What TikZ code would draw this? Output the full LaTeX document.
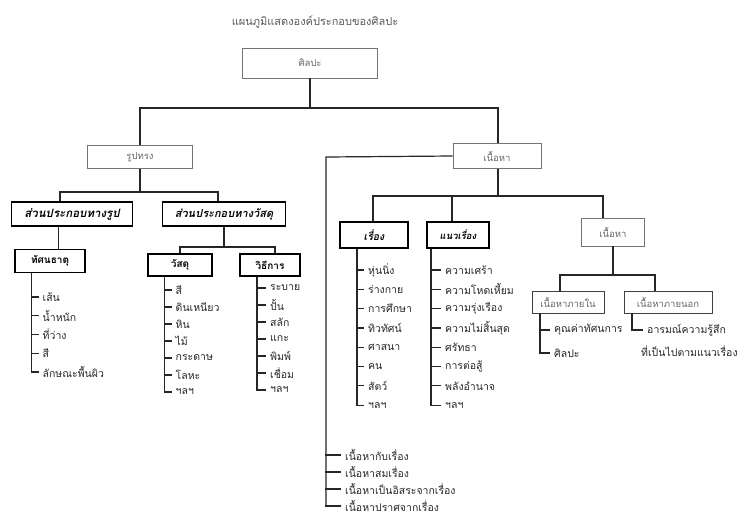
\documentclass[tikz,border=0pt]{standalone}
\usepackage{fontspec}
\setmainfont[Script=Thai]{Loma}
\usetikzlibrary{calc}
\tikzset{
  x=1pt,y=-1pt,
  conn/.style={draw=black!85,line width=1.2pt},
  connfill/.style={fill=black!85,draw=none},
  lbox/.style={draw=black!55,line width=0.8pt,text=black!60,inner sep=1pt,font=\fontsize{9.5}{10}\selectfont},
  dbox/.style={draw=black,line width=1.3pt,text=black,inner sep=1pt,font=\fontsize{10}{11}\selectfont\bfseries},
  item/.style={inner sep=1pt,anchor=west,text=black!85,font=\fontsize{10.5}{11}\selectfont},
  ttl/.style={text=black!65,font=\fontsize{11}{12}\selectfont}
}
\newcommand\mylist[6]{%
  % #1 prefix, #2 vertical x, #3 text offset, #4 first y, #5 dy, #6 items
  \foreach \t [count=\i] in {#6} {
    \pgfmathsetmacro\yy{#4+(\i-1)*#5}
    \node[item] (#1\i) at (#2+#3,\yy) {\t};
    \draw[conn] (#2-0.6,\yy) -- ([xshift=-3pt]#1\i.west);
  }
}
\begin{document}
\begin{tikzpicture}
\useasboundingbox (0,0) rectangle (742,515);
% title
\node[ttl] (title) at (315,22) {แผนภูมิแสดงองค์ประกอบของศิลปะ};
% boxes
\node[lbox,minimum width=135,minimum height=30] (silpa) at (310,63) {ศิลปะ};
\node[lbox,minimum width=105,minimum height=23] (rup) at (140,157) {รูปทรง};
\node[lbox,minimum width=88,minimum height=25] (nua) at (497,156) {เนื้อหา};
\node[dbox,minimum width=121,minimum height=24,font=\fontsize{11.5}{12}\selectfont\bfseries\itshape] (sr) at (72,214) {ส่วนประกอบทางรูป};
\node[dbox,minimum width=123,minimum height=24,font=\fontsize{11}{12}\selectfont\bfseries\itshape] (sw) at (224,214) {ส่วนประกอบทางวัสดุ};
\node[dbox,minimum width=70,minimum height=23] (thasana) at (50,261) {ทัศนธาตุ};
\node[dbox,minimum width=64,minimum height=22] (wassadu) at (180,265) {วัสดุ};
\node[dbox,minimum width=60,minimum height=22] (wit) at (270,265) {วิธีการ};
\node[dbox,minimum width=68,minimum height=26,font=\fontsize{10.5}{11}\selectfont\bfseries\itshape] (rueang) at (374,235) {เรื่อง};
\node[dbox,minimum width=62,minimum height=26,font=\fontsize{9.5}{11}\selectfont\bfseries\itshape] (naew) at (458,235) {แนวเรื่อง};
\node[lbox,minimum width=63,minimum height=28] (nua2) at (613,232) {เนื้อหา};
\node[lbox,draw=black!75,line width=0.9pt,minimum width=72,minimum height=22] (nai) at (568,302) {เนื้อหาภายใน};
\node[lbox,draw=black!75,line width=0.9pt,minimum width=88,minimum height=22] (nok) at (668,302) {เนื้อหาภายนอก};
% junctions and guide x positions
\coordinate (j1) at (310,108);
\coordinate (j2) at (140,192);
\coordinate (j4) at (224,247);
\coordinate (j5) at (498,196);
\coordinate (j6) at (613,275);
\coordinate (lft) at (326,157);
\coordinate (x60) at (60,0);
\coordinate (x218) at (218,0);
\coordinate (x275) at (275,0);
\coordinate (x373) at (373,0);
\coordinate (x452) at (452,0);
\coordinate (x603) at (603,0);
\coordinate (x560) at (560,0);
\coordinate (x655) at (655,0);
\coordinate (a58) at (57.9,0);
\coordinate (b58) at (59.1,0);
\coordinate (a31) at (30.9,0);
\coordinate (b31) at (32.1,0);
\coordinate (a164) at (163.9,0);
\coordinate (b164) at (165.1,0);
\coordinate (end3) at (257,390);
\coordinate (end4) at (357,405);
\coordinate (end5) at (431,405);
\coordinate (end6) at (540,353);
\coordinate (end7) at (632,330);
% connectors
\draw[conn] (silpa) -- (j1);
\draw[conn] (rup.north) |- (j1) -| (nua.north -| j5);
\draw[conn] (rup) -- (j2);
\draw[conn] (sr.north -| x60) |- (j2) -| (sw.north -| x218);
\fill[connfill] (sr.south -| a58) rectangle (thasana.north -| b58);
\draw[conn] (sw) -- (j4);
\draw[conn] (wassadu.north) |- (j4) -| (wit.north -| x275);
\draw[conn] (nua.south -| j5) -- (j5);
\draw[conn] (rueang.north -| x373) |- (j5) -| (nua2.north -| x603);
\draw[conn] (naew.north -| x452) -- (j5 -| x452);
\draw[conn] (nua2) -- (j6);
\draw[conn] (nai.north -| x560) |- (j6) -| (nok.north -| x655);
% lists
\mylist{t}{31.5}{10}{297}{18.75}{เส้น,น้ำหนัก,ที่ว่าง,สี,ลักษณะพื้นผิว}
\fill[connfill] (thasana.south -| a31) rectangle ([yshift=0.6pt]t5.west -| b31);
\mylist{w}{164.5}{10}{290}{17}{สี,ดินเหนียว,หิน,ไม้,กระดาษ,โลหะ,ฯลฯ}
\fill[connfill] (wassadu.south -| a164) rectangle ([yshift=0.6pt]w7.west -| b164);
\mylist{m}{257}{12}{288}{17}{ระบาย,ปั้น,สลัก,แกะ,พิมพ์,เชื่อม,ฯลฯ}
\draw[conn] (wit.south -| end3) |- ([xshift=-3pt]m7.west);
\mylist{r}{357}{10}{270}{19.3}{หุ่นนิ่ง,ร่างกาย,การศึกษา,ทิวทัศน์,ศาสนา,คน,สัตว์,ฯลฯ}
\draw[conn] (rueang.south -| end4) |- ([xshift=-3pt]r8.west);
\mylist{n}{431}{13}{270}{19.3}{ความเศร้า,ความโหดเหี้ยม,ความรุ่งเรือง,ความไม่สิ้นสุด,ศรัทธา,การต่อสู้,พลังอำนาจ,ฯลฯ}
\draw[conn] (naew.south -| end5) |- ([xshift=-3pt]n8.west);
\mylist{a}{540}{13}{330}{23}{คุณค่าทัศนการ,ศิลปะ}
\draw[conn] (nai.south -| end6) |- ([xshift=-3pt]a2.west);
\mylist{b}{632}{14}{330}{21}{อารมณ์ความรู้สึก}
\draw[conn] (nok.south -| end7) |- ([xshift=-3pt]b1.west);
\node[item] (b2) at (640,351) {ที่เป็นไปตามแนวเรื่อง};
% left branch
\mylist{c}{326}{18}{455}{17}{เนื้อหากับเรื่อง,เนื้อหาสมเรื่อง,เนื้อหาเป็นอิสระจากเรื่อง,เนื้อหาปราศจากเรื่อง}
\draw[conn] (nua.west) -- (lft) |- ([xshift=-3pt]c4.west);
\end{tikzpicture}
\end{document}
